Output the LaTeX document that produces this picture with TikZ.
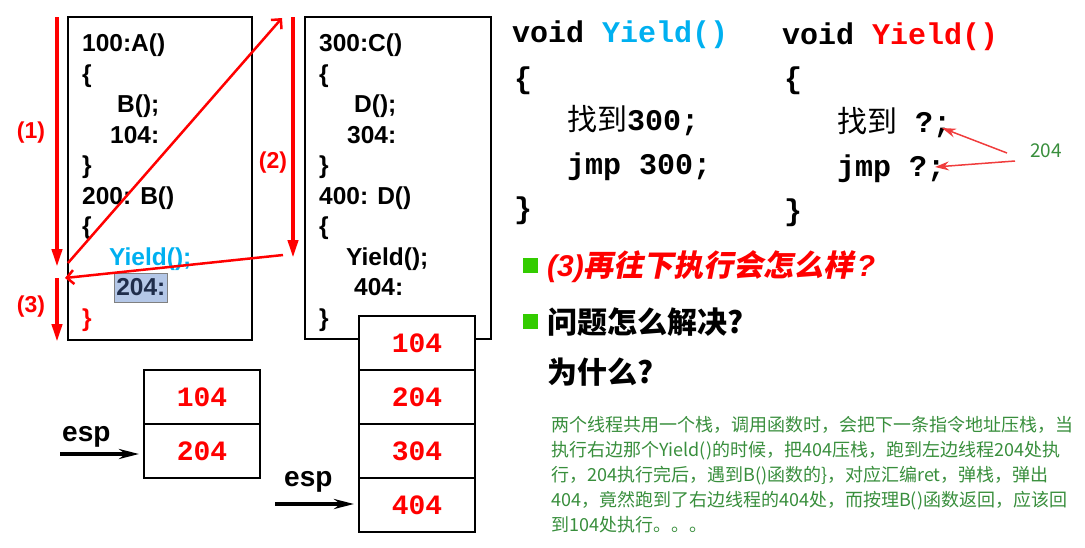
\documentclass[tikz,border=0pt]{standalone}
\usepackage{fontspec}
\setmainfont{Liberation Sans}
\setmonofont{Liberation Mono}
\newfontfamily\cjk{Noto Sans CJK SC}
\newfontfamily\cjkslant[FakeSlant=0.2]{Noto Sans CJK SC}
\usepackage{tikz}
\usetikzlibrary{positioning}
\usetikzlibrary{arrows.meta}
\definecolor{yieldblue}{RGB}{0,176,240}
\definecolor{bulletgreen}{RGB}{51,204,0}
\definecolor{notegreen}{RGB}{56,142,60}
\definecolor{hlblue}{RGB}{180,199,231}
\definecolor{hlnavy}{RGB}{31,45,75}
\definecolor{hintred}{RGB}{240,60,60}
\tikzset{
    yield diagram/.style={
            x=1pt,y=-1pt,
            codebox/.style={draw,line width=2.5pt,inner sep=0pt},
            codeline/.style={anchor=base west,inner sep=0pt,font=\fontsize{24.5}{24.5}\selectfont\bfseries},
            steplabel/.style={text=red,inner sep=0pt,font=\fontsize{23}{23}\selectfont\bfseries},
            steparrow/.style={red,line width=4pt,-{Triangle[length=18pt,width=10pt]}},
            jumparrow/.style={red,line width=2.5pt,-{Straight Barb[length=7pt,width=14pt]}},
            cell/.style={draw,fill=white,line width=2.5pt,outer sep=0pt,inner sep=0pt,
                    minimum width=116pt,minimum height=54pt,text=red,
                    font=\fontsize{28}{28}\selectfont\ttfamily\bfseries},
            esplabel/.style={anchor=base west,inner sep=0pt,font=\fontsize{28}{28}\selectfont\bfseries},
            esparrow/.style={line width=4pt,shorten >=5pt,-{Stealth[length=20pt,width=10pt]}},
            yieldcode/.style={anchor=base west,inner sep=0pt,font=\fontsize{30}{30}\selectfont\ttfamily\bfseries},
            hint/.style={text=notegreen,inner sep=0pt,font=\fontsize{19}{19}\selectfont\cjk},
            hintarrow/.style={hintred,line width=1.5pt,-{Stealth[length=14pt,width=9pt]}},
            bulletsq/.style={fill=bulletgreen,minimum size=15pt,inner sep=0pt},
            bullettext/.style={anchor=base west,inner sep=0pt,font=\fontsize{30}{30}\selectfont\cjk\bfseries}
        }
    }

\begin{document}
\begin{tikzpicture}[yield diagram]
    \useasboundingbox (0,0) rectangle (1085,547);

    % thread 1 and thread 2 code
    \node [codebox,minimum width=184pt,minimum height=323pt] (lbox) at (160,178.5) {};
    \node [codebox,minimum width=186pt,minimum height=322pt] (mbox) at (398,178) {};

    \node [codeline] (lA) at (82,51.5) {100:A()};
    \node [codeline] (lAo) at (82,82) {\{};
    \node [codeline] (lcallB) at (117,112.5) {B();};
    \node [codeline] (l104) at (110,143) {104:};
    \node [codeline] (lAc) at (82,173.5) {\}};
    \node [codeline] (lB) at (82,204) {200: B()};
    \node [codeline] (lBo) at (82,234.5) {\{};
    \node [codeline,text=yieldblue] (lyield) at (109,265) {Yield();};
    \node [codeline,fill=hlblue,draw=gray,line width=0.6pt,inner xsep=2pt,inner ysep=0.5pt,
        text height=22pt,text depth=6pt,text=hlnavy] (l204) at (114,295.5) {204:};
    \node [codeline,text=red] (lBc) at (82,326) {\}};

    \node [codeline] (mC) at (319,51.5) {300:C()};
    \node [codeline] (mCo) at (319,82) {\{};
    \node [codeline] (mcallD) at (354,112.5) {D();};
    \node [codeline] (m304) at (347,143) {304:};
    \node [codeline] (mCc) at (319,173.5) {\}};
    \node [codeline] (mD) at (319,204) {400: D()};
    \node [codeline] (mDo) at (319,234.5) {\{};
    \node [codeline] (myield) at (346,265) {Yield();};
    \node [codeline] (m404) at (354,295.5) {404:};
    \node [codeline] (mDc) at (319,326) {\}};

    % execution order
    \node [steplabel] (s1) at (31,133) {(1)};
    \node [steplabel] (s2) at (273,163) {(2)};
    \node [steplabel] (s3) at (31,307) {(3)};
    \coordinate (s1top) at (57,17);
    \coordinate (s1end) at (57,267);
    \coordinate (s2top) at (293,17);
    \coordinate (s2end) at (293,258);
    \coordinate (s3top) at (57,278);
    \coordinate (s3end) at (57,342);
    \coordinate (jumpfrom) at (68,263);
    \coordinate (jumpto) at (282,18);
    \coordinate (backfrom) at (283,255);
    \coordinate (backto) at (65,278);
    \draw [steparrow] (s1top) -- (s1end);
    \draw [steparrow] (s2top) -- (s2end);
    \draw [steparrow] (s3top) -- (s3end);
    \draw [jumparrow] (jumpfrom) -- (jumpto);
    \draw [jumparrow] (backfrom) -- (backto);

    % the two stacks
    \node [cell] (a104) at (202,397) {104};
    \node [cell,below=0pt of a104] (a204) {204};
    \node [esplabel] (espa) at (62,441) {esp};
    \coordinate (espatail) at (60,454);
    \draw [esparrow] (espatail) -- (espatail -| a204.west);

    \node [cell] (b104) at (417,343) {104};
    \node [cell,below=0pt of b104] (b204) {204};
    \node [cell,below=0pt of b204] (b304) {304};
    \node [cell,below=0pt of b304] (b404) {404};
    \node [esplabel] (espb) at (284,486.5) {esp};
    \coordinate (espbtail) at (275,504);
    \draw [esparrow] (espbtail) -- (espbtail -| b404.west);

    % the two Yield()
    \node [yieldcode] (yl) at (512,42) {void \textcolor{yieldblue}{Yield()}};
    \node [yieldcode] (ylo) at (514,88) {\{};
    \node [yieldcode] (ylfind) at (567,130) {{\cjk\mdseries 找到}300;};
    \node [yieldcode] (yljmp) at (567,174) {jmp 300;};
    \node [yieldcode] (ylc) at (514,218) {\}};

    \node [yieldcode] (yr) at (782,44) {void \textcolor{red}{Yield()}};
    \node [yieldcode] (yro) at (784,88) {\{};
    \node [yieldcode] (yrfind) at (837,132) {{\cjk\mdseries 找到} ?;};
    \node [yieldcode] (yrjmp) at (837,176) {jmp ?;};
    \node [yieldcode] (yrc) at (784,220) {\}};

    \node [hint] (h204) at (1046,151) {204};
    \coordinate (h1) at (1007,153);
    \coordinate (h2) at (1015,161);
    \coordinate (q1) at (942,128);
    \coordinate (q2) at (935,167);
    \draw [hintarrow] (h1) -- (q1);
    \draw [hintarrow] (h2) -- (q2);

    % questions
    \node [bulletsq] (b1) at (530,265.5) {};
    \node [bulletsq] (b2) at (530,321) {};
    \node [bullettext,text=red] (q3) at (547,276)
        {{\rmfamily\bfseries\itshape (3)}{\cjkslant\bfseries 再往下执行会怎么样}\kern3pt{\rmfamily\bfseries\itshape ?}};
    \node [bullettext] (qfix) at (547,333) {问题怎么解决?};
    \node [bullettext] (qwhy) at (547,383) {为什么?};

    \node [anchor=north west,inner sep=0pt,align=left,text=notegreen,
        font=\fontsize{18}{25}\selectfont\cjk] (note) at (551,416) {两个线程共用一个栈，调用函数时，会把下一条指令地址压栈，当\\
        执行右边那个Yield()的时候，把404压栈，跑到左边线程204处执\\
        行，204执行完后，遇到B()函数的\}，对应汇编ret，弹栈，弹出\\
        404，竟然跑到了右边线程的404处，而按理B()函数返回，应该回\\
        到104处执行。。。};
\end{tikzpicture}
\end{document}
